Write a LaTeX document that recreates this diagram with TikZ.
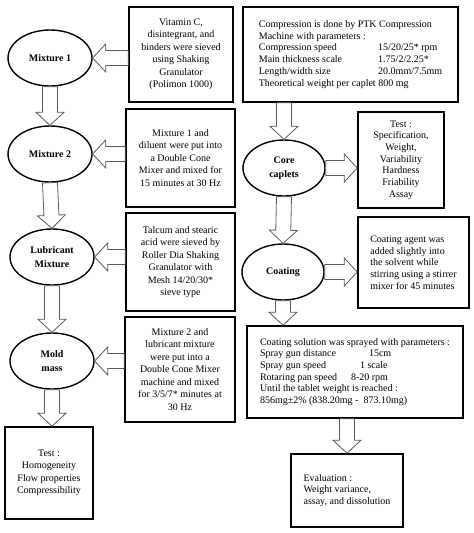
\documentclass[tikz,border=0pt]{standalone}
\usepackage{fontspec}
\setmainfont{Liberation Serif}
\usetikzlibrary{shapes.geometric,calc}

\tikzset{
  stepnode/.style={draw, ellipse, line width=1.4pt, minimum width=84pt, minimum height=56pt,
    inner sep=0pt, align=center, font=\bfseries\fontsize{10}{14}\selectfont},
  infobox/.style={draw, line width=1.6pt, inner sep=0pt, align=center,
    font=\fontsize{10}{12.5}\selectfont},
  parambox/.style={infobox, font=\fontsize{10}{11.7}\selectfont},
  blockarr/.style={draw=black!65, fill=white, line width=0.8pt, line join=miter},
}

% hollow block arrow from #1 to #2
\newcommand{\blockarrow}[2]{%
  \coordinate (ba-s) at (#1);
  \coordinate (ba-t) at (#2);
  \coordinate (ba-b) at ($(ba-t)!13pt!(ba-s)$);
  \draw[blockarr] ($(ba-s)!7.5pt!90:(ba-t)$) -- ($(ba-b)!7.5pt!90:(ba-t)$)
    -- ($(ba-b)!14pt!90:(ba-t)$) -- (ba-t) -- ($(ba-b)!14pt!-90:(ba-t)$)
    -- ($(ba-b)!7.5pt!-90:(ba-t)$) -- ($(ba-s)!7.5pt!-90:(ba-t)$) -- cycle;
}

\begin{document}
\begin{tikzpicture}[x=1pt,y=-1pt]
  \useasboundingbox (0,0) rectangle (474,533);

  % left column
  \node[stepnode] (mix1) at (50,58) {Mixture 1};
  \node[stepnode] (mix2) at (50,154) {Mixture 2};
  \node[stepnode] (lubmix) at (52,257) {Lubricant\\Mixture};
  \node[stepnode] (mold) at (52,361) {Mold\\mass};

  \node[infobox, minimum width=104pt, minimum height=95pt] (vitc) at (181,54.5)
    {Vitamin C,\\disintegrant, and\\binders were sieved\\using Shaking\\Granulator\\(Polimon 1000)};
  \node[infobox, minimum width=109pt, minimum height=98pt] (dilu) at (180.5,158)
    {Mixture 1 and\\diluent were put into\\a Double Cone\\Mixer and mixed for\\15 minutes at 30 Hz};
  \node[infobox, minimum width=109pt, minimum height=98pt] (talc) at (180.5,262)
    {Talcum and stearic\\acid were sieved by\\Roller Dia Shaking\\Granulator with\\Mesh 14/20/30*\\sieve type};
  \node[infobox, minimum width=110pt, minimum height=105pt] (lubin) at (180,369.5)
    {Mixture 2 and\\lubricant mixture\\were put into a\\Double Cone Mixer\\machine and mixed\\for 3/5/7* minutes at\\30 Hz};
  \node[infobox, minimum width=88pt, minimum height=92pt] (moldtest) at (49,473)
    {Test :\\Homogeneity\\Flow properties\\Compressibility};

  % right column
  \node[parambox, minimum width=215pt, minimum height=95pt] (press) at (350.5,54.5)
    {\begin{tabular}{@{}l@{ }l@{}}
      \multicolumn{2}{@{}l@{}}{Compression is done by PTK Compression}\\
      \multicolumn{2}{@{}l@{}}{Machine with parameters :}\\
      Compression speed & 15/20/25* rpm\\
      Main thickness scale & 1.75/2/2.25*\\
      Length/width size & 20.0mm/7.5mm\\
      Theoretical weight per caplet & 800 mg
    \end{tabular}};
  \node[stepnode, minimum width=82pt] (core) at (284,168) {Core\\caplets};
  \node[stepnode, minimum width=82pt] (coat) at (283,272) {Coating};

  \node[parambox, minimum width=86pt, minimum height=96pt] (coretest) at (401,160)
    {Test :\\Specification,\\Weight,\\Variability\\Hardness\\Friability\\Assay};
  \node[parambox, align=left, minimum width=111pt, minimum height=91pt] (agent) at (413.5,262.5)
    {Coating agent was\\added slightly into\\the solvent while\\stirring using a stirrer\\mixer for 45 minutes};
  \node[parambox, align=left, minimum width=216pt, minimum height=92pt] (spray) at (355,372)
    {Coating solution was sprayed with parameters :\\
     \makebox[109pt][l]{Spray gun distance}15cm\\
     \makebox[100pt][l]{Spray gun speed}1 scale\\
     \makebox[91pt][l]{Rotaring pan speed}8-20 rpm\\
     Until the tablet weight is reached :\\
     856mg±2\% (838.20mg - \ 873.10mg)};
  \node[parambox, align=left, minimum width=112pt, minimum height=73pt] (evalbox) at (347,490.5)
    {Evaluation :\\Weight variance,\\assay, and dissolution};

  % arrows, left column
  \blockarrow{mix1.east -| vitc.west}{mix1.east}
  \blockarrow{mix2.east -| dilu.west}{mix2.east}
  \blockarrow{lubmix.east -| talc.west}{lubmix.east}
  \blockarrow{mold.east -| lubin.west}{mold.east}
  \blockarrow{mix1.south}{mix2.north}
  \blockarrow{mix2.south}{lubmix.north}
  \blockarrow{lubmix.south}{mold.north}
  \blockarrow{mold.south}{mold.south |- moldtest.north}

  % arrows, right column
  \blockarrow{core.north |- press.south}{core.north}
  \blockarrow{core.east}{core.east -| coretest.west}
  \blockarrow{core.south}{coat.north}
  \blockarrow{coat.east}{coat.east -| agent.west}
  \blockarrow{coat.south}{coat.south |- spray.north}
  \blockarrow{evalbox.north |- spray.south}{evalbox.north}
\end{tikzpicture}
\end{document}
